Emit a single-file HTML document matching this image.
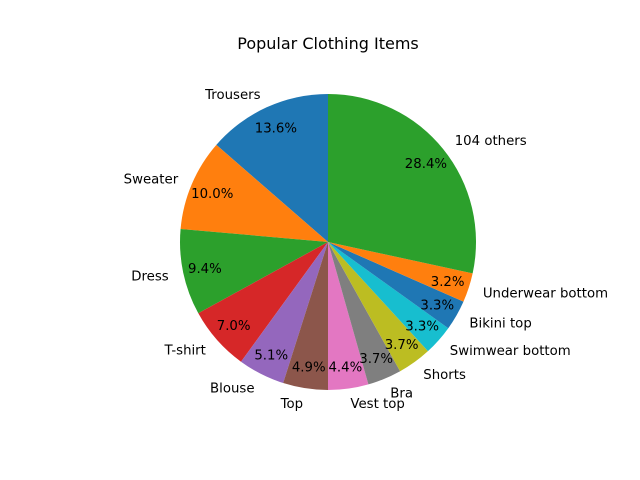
<!DOCTYPE html>
<html><head><meta charset="utf-8"><style>
html,body{margin:0;padding:0;background:#fff;}
svg{display:block;font-family:"DejaVu Sans","Liberation Sans",sans-serif;}
</style></head><body>
<svg id="chart" width="640" height="480" viewBox="0 0 640 480">
<rect width="640" height="480" fill="#fff"/>
<text x="328" y="49" text-anchor="middle" font-size="16" fill="#000">Popular Clothing Items</text>
<g id="slices"></g><g id="labels"></g>
</svg>
<script>
const categories = ["Trousers","Sweater","Dress","T-shirt","Blouse","Top","Vest top","Bra","Shorts","Swimwear bottom","Bikini top","Underwear bottom","104 others"];
const values = [13.6,10.0,9.4,7.0,5.1,4.9,4.4,3.7,3.7,3.3,3.3,3.2,28.4];
const colors = ["#1f77b4","#ff7f0e","#2ca02c","#d62728","#9467bd","#8c564b","#e377c2","#7f7f7f","#bcbd22","#17becf","#1f77b4","#ff7f0e","#2ca02c"];
const cx=328, cy=242, R=148;
const NS="http://www.w3.org/2000/svg";
const total=values.reduce((a,b)=>a+b,0);
const gS=document.getElementById('slices'), gL=document.getElementById('labels');
function pt(a,r){return [cx+r*Math.cos(a), cy-r*Math.sin(a)];}
let ang=Math.PI/2;
values.forEach((v,i)=>{
  const sw=v/total*2*Math.PI, a0=ang, a1=ang+sw, mid=(a0+a1)/2;
  const p0=pt(a0,R), p1=pt(a1,R);
  const path=document.createElementNS(NS,'path');
  path.setAttribute('d',`M${cx},${cy} L${p0[0]},${p0[1]} A${R},${R} 0 ${sw>Math.PI?1:0} 0 ${p1[0]},${p1[1]} Z`);
  path.setAttribute('fill',colors[i]);
  
  
  gS.appendChild(path);
  const lp=pt(mid,R*1.1);
  const t=document.createElementNS(NS,'text');
  t.setAttribute('x',lp[0]); t.setAttribute('y',lp[1]+5);
  t.setAttribute('text-anchor',Math.cos(mid)>=0?'start':'end');
  t.setAttribute('font-size','13.3');
  t.textContent=categories[i];
  
  
  gL.appendChild(t);
  const pp=pt(mid,R*0.85);
  const p=document.createElementNS(NS,'text');
  p.setAttribute('x',pp[0]); p.setAttribute('y',pp[1]+5);
  p.setAttribute('text-anchor','middle');
  p.setAttribute('font-size','13.3');
  p.textContent=(v/total*100).toFixed(1)+'%';
  
  
  gL.appendChild(p);
  ang=a1;
});
</script>
</body></html>
